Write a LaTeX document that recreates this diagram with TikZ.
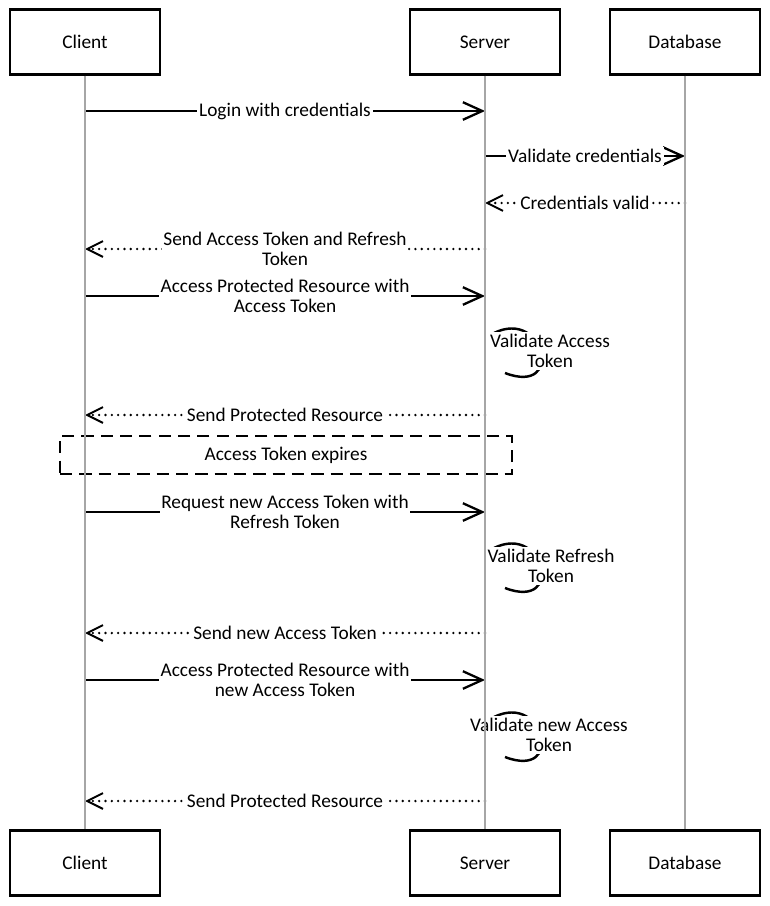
\documentclass[tikz,border=0pt]{standalone}
\usepackage{fontspec}
\setmainfont{Carlito}
\usetikzlibrary{arrows.meta,positioning}

\begin{document}
\begin{tikzpicture}[x=0.02cm, y=-0.02cm,
    every node/.style={font=\fontsize{11}{11.4}\selectfont},
    actor/.style={draw, line width=1.3pt, fill=white, minimum width=3cm, minimum height=1.3cm},
    life/.style={draw=black!35, line width=0.6pt},
    msg/.style={line width=1.6pt, -{Straight Barb[length=11pt, width=10pt, line width=1.3pt]}},
    reply/.style={line width=1.5pt, line cap=round, dash pattern=on 0pt off 3.6pt,
                  -{Straight Barb[length=9pt, width=9pt, line width=1.1pt]}},
    selfmsg/.style={line width=1.4pt},
    lbl/.style={fill=white, inner sep=1pt, align=center}]
    \useasboundingbox (0,0) rectangle (770,906);

    % Participants, top and bottom
    \node[actor] (client) at (85,42) {Client};
    \node[actor] (server) at (485,42) {Server};
    \node[actor] (db) at (685,42) {Database};
    \node[actor] (clientb) at (85,863) {Client};
    \node[actor] (serverb) at (485,863) {Server};
    \node[actor] (dbb) at (685,863) {Database};

    % Points on the lifelines
    \foreach \n/\y in {1/111, 2/156, 3/203, 4/249, 5/296, 7/415, 9/512, 11/633, 12/680, 14/801} {
        \coordinate (c\n) at (85,\y);
        \coordinate (s\n) at (485,\y);
        \coordinate (d\n) at (685,\y);
    }

    % Login
    \draw[msg] (c1) -- node[lbl] (m1) {Login with credentials} (s1);
    \draw[msg] (s2) -- node[lbl] (m2) {Validate credentials} (d2);
    \draw[reply] (d3) -- node[lbl] (m3) {Credentials valid} (s3);
    \draw[reply] (s4) -- node[lbl] (m4) {Send Access Token and Refresh\\Token} (c4);

    % First access
    \draw[msg] (c5) -- node[lbl] (m5) {Access Protected Resource with\\Access Token} (s5);
    \coordinate (v6a) at (494,333);
    \coordinate (v6b) at (505,373);
    \draw[selfmsg] (v6a) .. controls (545,308) and (565,396) .. (v6b);
    \node[lbl] (m6) at (550,351) {Validate Access\\Token};
    \draw[reply] (s7) -- node[lbl] (m7) {Send Protected Resource} (c7);

    % Expiry note
    \node[draw, line width=1.3pt, dash pattern=on 7pt off 4pt, minimum width=9.04cm,
          minimum height=0.76cm] (expiry) at (286,455) {Access Token expires};

    % Refresh
    \draw[msg] (c9) -- node[lbl] (m9) {Request new Access Token with\\Refresh Token} (s9);
    \coordinate (v10a) at (494,548);
    \coordinate (v10b) at (505,588);
    \draw[selfmsg] (v10a) .. controls (545,523) and (565,611) .. (v10b);
    \node[lbl] (m10) at (551,566) {Validate Refresh\\Token};
    \draw[reply] (s11) -- node[lbl] (m11) {Send new Access Token} (c11);

    % Second access
    \draw[msg] (c12) -- node[lbl] (m12) {Access Protected Resource with\\new Access Token} (s12);
    \coordinate (v13a) at (494,717);
    \coordinate (v13b) at (505,757);
    \draw[selfmsg] (v13a) .. controls (545,692) and (565,780) .. (v13b);
    \node[lbl] (m13) at (549,735) {Validate new Access\\Token};
    \draw[reply] (s14) -- node[lbl] (m14) {Send Protected Resource} (c14);

    % Lifelines
    \draw[life] (client) -- (clientb);
    \draw[life] (server) -- (serverb);
    \draw[life] (db) -- (dbb);
\end{tikzpicture}
\end{document}
